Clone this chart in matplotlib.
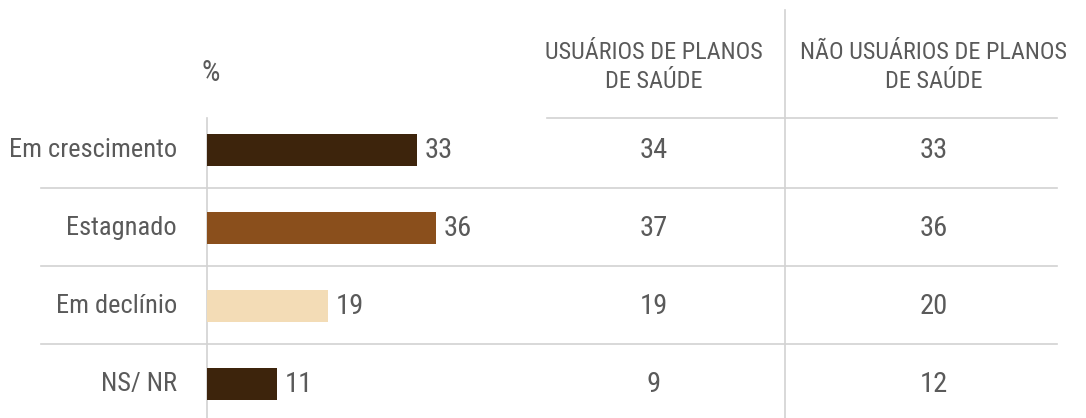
import matplotlib
matplotlib.use("Agg")
import matplotlib.pyplot as plt
from matplotlib import font_manager

categories = ["Em crescimento", "Estagnado", "Em declínio", "NS/ NR"]
total = [33, 36, 19, 11]
usuarios = [34, 37, 19, 9]
nao_usuarios = [33, 36, 20, 12]
col_headers = ["USUÁRIOS DE PLANOS\nDE SAÚDE", "NÃO USUÁRIOS DE PLANOS\nDE SAÚDE"]
bar_colors = ["#3d240c", "#8a4f1c", "#f3dcb6", "#3d240c"]

# condensed face if one is around, else plain DejaVu
names = {f.name for f in font_manager.fontManager.ttflist}
pick = next((n for n in ["Roboto Condensed", "Liberation Sans Narrow", "Open Sans Condensed"]
             if n in names), None)
FONT = [pick, "DejaVu Sans"] if pick else ["DejaVu Sans"]
plt.rcParams["font.family"] = FONT
plt.rcParams["font.stretch"] = "condensed"
TXT = "#5a5a5a"
GRID = "#d2d2d2"

W, H = 1086, 418
fig = plt.figure(figsize=(W / 100, H / 100), dpi=100)

# overlay axes in pixel coordinates for the table part
ov = fig.add_axes([0, 0, 1, 1])
ov.set_xlim(0, W)
ov.set_ylim(H, 0)
ov.axis("off")

row_y0, row_dy = 150, 78
rows_y = [row_y0 + i * row_dy for i in range(len(categories))]

# bar axes: starts at x=207px, rows aligned with table
bx0, bx1 = 207, 547
by_top, by_bot = 118, 418
bar = fig.add_axes([bx0 / W, 1 - by_bot / H, (bx1 - bx0) / W, (by_bot - by_top) / H])
bar.patch.set_alpha(0)
scale = 6.35  # px per unit
bar.set_xlim(0, (bx1 - bx0) / scale)
bar.set_ylim((by_bot - row_y0) / row_dy, -(row_y0 - by_top) / row_dy)
bar.barh(range(len(categories)), total, height=0.41, color=bar_colors)
for i, v in enumerate(total):
    bar.text(v + 1.3, i, str(v), va="center", ha="left", fontsize=20.5, color=TXT)
for s in bar.spines.values():
    s.set_visible(False)
bar.set_xticks([])
bar.set_yticks([])

# grid lines
ov.plot([bx0, bx0], [118, H], color=GRID, lw=1.2)
ov.plot([785, 785], [10, H], color=GRID, lw=1.2)
ov.plot([547, 1057], [118, 118], color=GRID, lw=1.2)
for i in range(len(categories) - 1):
    y = (rows_y[i] + rows_y[i + 1]) / 2 - 1.5
    ov.plot([41, 1057], [y, y], color=GRID, lw=1.2)

ov.text(211, 73, "%", ha="center", va="center", fontsize=21, color=TXT)
col_x = [654, 934]
for x, h in zip(col_x, col_headers):
    ov.text(x, 67, h, ha="center", va="center", fontsize=17.5, color=TXT, linespacing=1.3)

for i, y in enumerate(rows_y):
    ov.text(177, y, categories[i], ha="right", va="center", fontsize=19, color=TXT)
    ov.text(col_x[0], y, str(usuarios[i]), ha="center", va="center", fontsize=20.5, color=TXT)
    ov.text(col_x[1], y, str(nao_usuarios[i]), ha="center", va="center", fontsize=20.5, color=TXT)

fig.savefig("out.png", dpi=100)
